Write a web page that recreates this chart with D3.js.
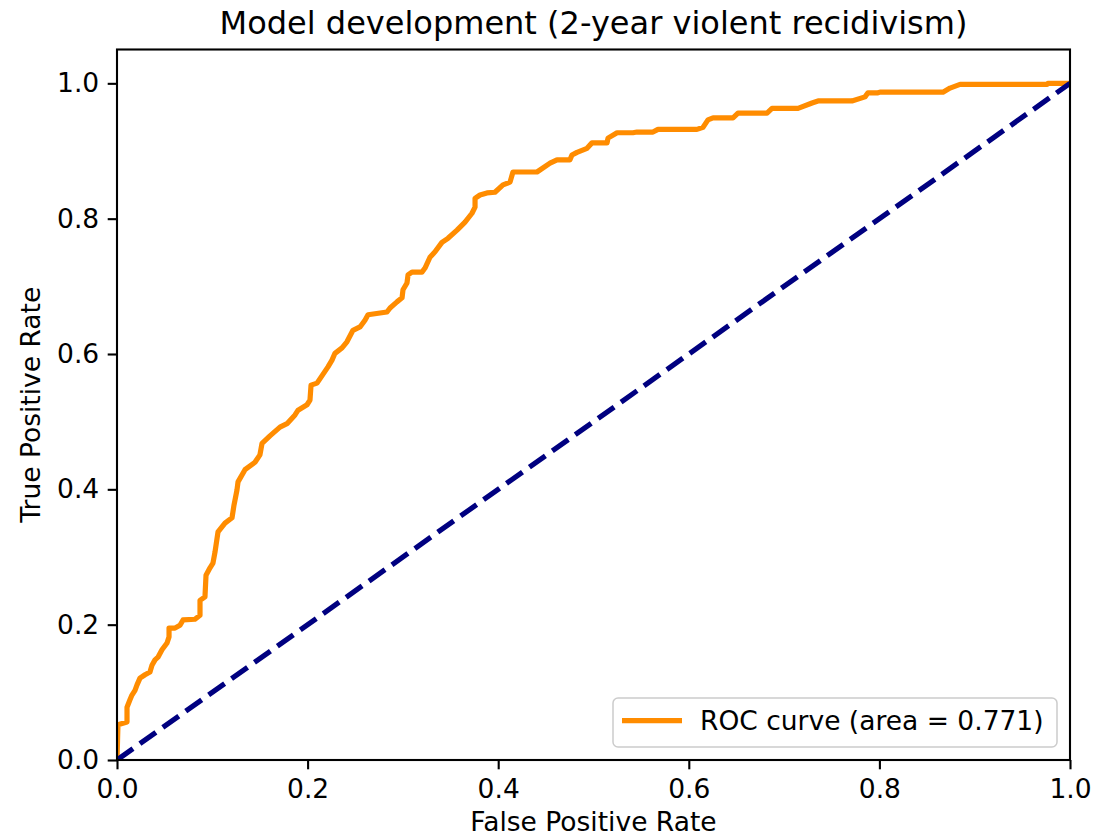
<!DOCTYPE html>
<html>
<head>
<meta charset="utf-8">
<script src="https://cdn.jsdelivr.net/npm/d3@7"></script>
<style>
  html, body { margin: 0; padding: 0; background: #fff; }
  svg { display: block; font-family: "DejaVu Sans", sans-serif; }
</style>
</head>
<body>
<svg id="chart" width="1094" height="838"></svg>
<script>
// ---- Data ----
const fpr = [0, 0.001, 0.0105, 0.0105, 0.0136, 0.0157, 0.0189, 0.021, 0.0241, 0.0294,
  0.0346, 0.0367, 0.0399, 0.043, 0.0472, 0.0525, 0.0546, 0.0546, 0.0609, 0.0661,
  0.0693, 0.0818, 0.0871, 0.0871, 0.0923, 0.0934, 0.0976, 0.1007, 0.1028, 0.106,
  0.1133, 0.1207, 0.1228, 0.1259, 0.127, 0.1343, 0.1448, 0.150, 0.1522, 0.1605,
  0.171, 0.1784, 0.1868, 0.190, 0.1994, 0.2025, 0.2036, 0.2099, 0.2214, 0.2256,
  0.2287, 0.2361, 0.2413, 0.2476, 0.255, 0.2602, 0.2634, 0.2833, 0.2865, 0.2938,
  0.2991, 0.3001, 0.3043, 0.3054, 0.3095, 0.320, 0.3232, 0.3284, 0.3337, 0.341,
  0.3473, 0.3568, 0.3652, 0.3725, 0.3757, 0.3757, 0.3809, 0.3882, 0.3966, 0.405,
  0.4124, 0.4155, 0.4407, 0.4544, 0.4617, 0.4753, 0.4774, 0.4827, 0.4932, 0.4984,
  0.5142, 0.5152, 0.5247, 0.5414, 0.5456, 0.5624, 0.5677, 0.6086, 0.6149, 0.6201,
  0.6254, 0.6464, 0.6516, 0.6821, 0.6873, 0.7146, 0.7293, 0.7356, 0.7712, 0.7849,
  0.788, 0.7985, 0.8006, 0.8667, 0.8741, 0.8846, 0.9759, 0.9769, 1.0];
const tpr = [0, 0.052, 0.056, 0.078, 0.089, 0.096, 0.103, 0.111, 0.121, 0.126,
  0.130, 0.140, 0.148, 0.152, 0.163, 0.173, 0.182, 0.195, 0.195, 0.199,
  0.207, 0.208, 0.214, 0.236, 0.241, 0.273, 0.284, 0.291, 0.307, 0.337,
  0.350, 0.358, 0.377, 0.399, 0.411, 0.429, 0.440, 0.451, 0.468, 0.479,
  0.492, 0.497, 0.510, 0.517, 0.525, 0.532, 0.554, 0.557, 0.581, 0.591,
  0.601, 0.609, 0.618, 0.635, 0.640, 0.650, 0.658, 0.662, 0.668, 0.677,
  0.683, 0.695, 0.705, 0.717, 0.721, 0.721, 0.727, 0.743, 0.751, 0.765,
  0.771, 0.783, 0.795, 0.808, 0.817, 0.830, 0.835, 0.838, 0.839, 0.850,
  0.854, 0.869, 0.869, 0.882, 0.887, 0.887, 0.894, 0.898, 0.904, 0.912,
  0.912, 0.919, 0.927, 0.927, 0.928, 0.928, 0.932, 0.932, 0.935, 0.946,
  0.949, 0.949, 0.956, 0.956, 0.963, 0.963, 0.971, 0.974, 0.974, 0.980,
  0.986, 0.986, 0.987, 0.987, 0.993, 0.9985, 0.9985, 1.0, 1.0];
const chanceX = [0, 1];
const chanceY = [0, 1];
const xTicks = [0.0, 0.2, 0.4, 0.6, 0.8, 1.0];
const yTicks = [0.0, 0.2, 0.4, 0.6, 0.8, 1.0];
const titleText = "Model development (2-year violent recidivism)";
const xLabel = "False Positive Rate";
const yLabel = "True Positive Rate";
const legendLabel = "ROC curve (area = 0.771)";

// ---- Layout ----
const svg = d3.select("#chart");
const pL = 117, pR = 1070, pT = 49.5, pB = 760;
const fs = 26.5;
const x = d3.scaleLinear().domain([0, 1]).range([pL, pR]);
const y = d3.scaleLinear().domain([0, 1.05]).range([pB, pT]);

svg.append("defs").append("clipPath").attr("id", "clip")
  .append("rect").attr("x", pL).attr("y", pT)
  .attr("width", pR - pL).attr("height", pB - pT);

const line = d3.line().x(d => x(d[0])).y(d => y(d[1]));

const plot = svg.append("g").attr("clip-path", "url(#clip)");
plot.append("path")
  .datum(fpr.map((v, i) => [v, tpr[i]]))
  .attr("d", line)
  .attr("fill", "none")
  .attr("stroke", "#ff8c00")
  .attr("stroke-width", 5.2)
  .attr("stroke-linejoin", "round")
  .attr("stroke-linecap", "butt");

plot.append("path")
  .datum(chanceX.map((v, i) => [v, chanceY[i]]))
  .attr("d", line)
  .attr("fill", "none")
  .attr("stroke", "#000080")
  .attr("stroke-width", 5.2)
  .attr("stroke-dasharray", "19.6,8.5");

// ---- Axes ----
const tickFmt = d3.format(".1f");
const xAxis = svg.append("g").attr("transform", `translate(0,${pB})`)
  .call(d3.axisBottom(x).tickValues(xTicks).tickFormat(tickFmt).tickSize(9.3).tickSizeOuter(0).tickPadding(9.3));
const yAxis = svg.append("g").attr("transform", `translate(${pL},0)`)
  .call(d3.axisLeft(y).tickValues(yTicks).tickFormat(tickFmt).tickSize(9.3).tickSizeOuter(0).tickPadding(8.5));
[xAxis, yAxis].forEach(a => {
  a.select(".domain").remove();
  a.selectAll(".tick line").attr("stroke", "#000").attr("stroke-width", 2.1);
  a.selectAll(".tick text").attr("fill", "#000")
    .style("font-size", fs + "px").style("font-family", "'DejaVu Sans', sans-serif");
});
xAxis.selectAll(".tick text").attr("dy", "0.72em");

// spines
svg.append("rect").attr("x", pL).attr("y", pT)
  .attr("width", pR - pL).attr("height", pB - pT)
  .attr("fill", "none").attr("stroke", "#000").attr("stroke-width", 2.1);

// ---- Labels ----
svg.append("text").attr("x", (pL + pR) / 2).attr("y", 34)
  .attr("text-anchor", "middle").style("font-size", "32px").text(titleText);
svg.append("text").attr("x", (pL + pR) / 2).attr("y", 831)
  .attr("text-anchor", "middle").style("font-size", fs + "px").text(xLabel);
svg.append("text")
  .attr("transform", `translate(40,${(pT + pB) / 2}) rotate(-90)`)
  .attr("text-anchor", "middle").style("font-size", fs + "px").text(yLabel);

// ---- Legend ----
const lg = svg.append("g");
lg.append("rect").attr("x", 613).attr("y", 698).attr("width", 444).attr("height", 49)
  .attr("rx", 5).attr("ry", 5)
  .attr("fill", "#fff").attr("fill-opacity", 0.8)
  .attr("stroke", "#cccccc").attr("stroke-width", 1.5);
lg.append("line").attr("x1", 622).attr("x2", 682).attr("y1", 720.7).attr("y2", 720.7)
  .attr("stroke", "#ff8c00").attr("stroke-width", 5.2);
lg.append("text").attr("x", 700).attr("y", 730)
  .style("font-size", fs + "px").text(legendLabel);
</script>
</body>
</html>
